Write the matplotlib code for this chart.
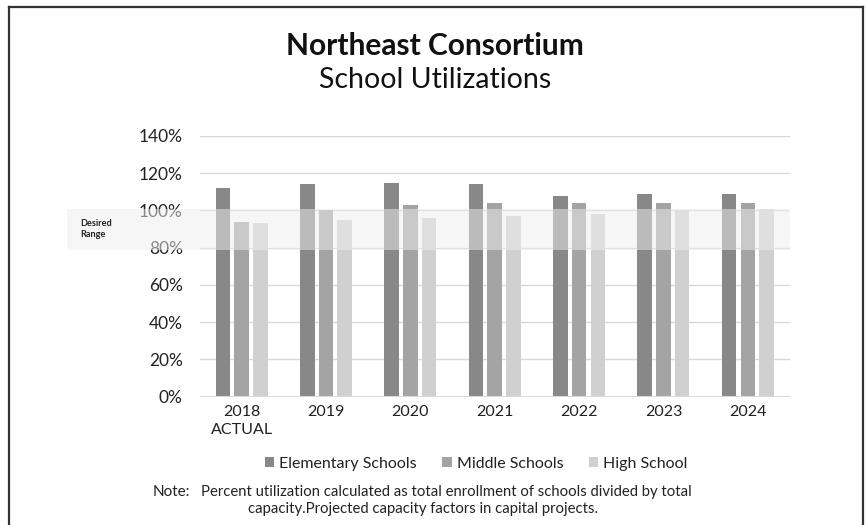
import matplotlib
matplotlib.use("Agg")
import matplotlib.pyplot as plt
import matplotlib.transforms as mtransforms
from matplotlib.patches import Rectangle
from matplotlib.lines import Line2D
import numpy as np

plt.rcParams['font.family'] = ['Lato', 'DejaVu Sans']

categories = ["2018\nACTUAL", "2019", "2020", "2021", "2022", "2023", "2024"]
series_names = ["Elementary Schools", "Middle Schools", "High School"]
elementary = [112, 114, 115, 114, 108, 109, 109]
middle = [94, 100, 103, 104, 104, 104, 104]
high = [93, 95, 96, 97, 98, 100, 101]
yticks = [0, 20, 40, 60, 80, 100, 120, 140]
band_range = (78.5, 101)

colors = ["#888888", "#a4a4a4", "#d0d0d0"]

W, H = 867, 525
fig = plt.figure(figsize=(W / 100, H / 100), dpi=100)
ax = fig.add_axes([199.5 / W, 1 - 396.5 / H, (790 - 199.5) / W, (396.5 - 136) / H])

x = np.arange(len(categories))
bw = 0.173
off = 0.222
for i, (vals, c, name) in enumerate(zip([elementary, middle, high], colors, series_names)):
    ax.bar(x + (i - 1) * off, vals, width=bw, color=c, label=name, zorder=2)

ax.set_xlim(-0.5, len(categories) - 0.5)
ax.set_ylim(0, 140)
ax.set_yticks(yticks)
ax.set_yticklabels([f"{v}%" for v in yticks])
ax.set_xticks(x)
ax.set_xticklabels(categories)
ax.tick_params(axis='both', length=0, colors="#222222")
ax.tick_params(axis='y', pad=12, labelsize=12.5)
ax.tick_params(axis='x', pad=6, labelsize=11.5)
for lab in ax.get_xticklabels():
    lab.set_linespacing(1.35)
ax.grid(axis='y', color="#d9d9d9", lw=1, zorder=0)
for s in ax.spines.values():
    s.set_visible(False)
ax.axhline(0, color="#d9d9d9", lw=1.5, zorder=3)

# desired range band (overlay)
trans = mtransforms.blended_transform_factory(fig.transFigure, ax.transData)
band = Rectangle((67 / W, band_range[0]), (790 - 67) / W, band_range[1] - band_range[0],
                 transform=trans, facecolor="#eeeeee", alpha=0.5, edgecolor='none',
                 zorder=5, clip_on=False)
ax.add_patch(band)
ax.text(80 / W, (band_range[0] + band_range[1]) / 2 + 0.5, "Desired\nRange", transform=trans,
        fontsize=6.6, fontweight='bold', ha='left', va='center', color="#222222",
        linespacing=1.3, zorder=6)

# titles
fig.text(435 / W, 1 - 46 / H, "Northeast Consortium", ha='center', va='center',
         fontsize=21.5, fontweight='bold', color="#111111")
fig.text(435 / W, 1 - 80 / H, "School Utilizations", ha='center', va='center',
         fontsize=20.5, color="#111111")

# legend
leg = fig.legend(loc='center', bbox_to_anchor=(476 / W, 1 - 464 / H), ncol=3, frameon=False,
                 fontsize=11.5, handlelength=0.6, handleheight=0.6, handletextpad=0.3,
                 columnspacing=1.6)
for t in leg.get_texts():
    t.set_color("#222222")

# note
fig.text(190 / W, 1 - 492 / H, "Note:", ha='right', va='center', fontsize=11, color="#222222")
fig.text(201 / W, 1 - 492 / H,
         "Percent utilization calculated as total enrollment of schools divided by total",
         ha='left', va='center', fontsize=10.7, color="#222222")
fig.text(423 / W, 1 - 509 / H,
         "capacity.Projected capacity factors in capital projects.",
         ha='center', va='center', fontsize=10.7, color="#222222")

# border
bx0, bx1, by0 = 9 / W, 863 / W, 1 - 7 / H
for xs, ys in [([bx0, bx0], [0, by0]), ([bx0, bx1], [by0, by0]), ([bx1, bx1], [by0, 0])]:
    fig.add_artist(Line2D(xs, ys, transform=fig.transFigure, color="#333333", lw=1.6))

fig.savefig("out.png", dpi=100)
